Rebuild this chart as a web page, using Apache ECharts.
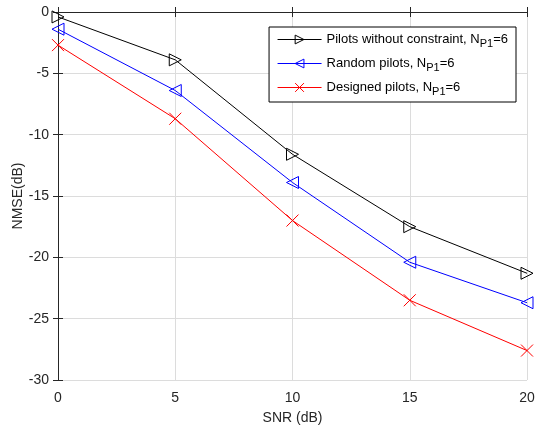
<!DOCTYPE html>
<html>
<head>
<meta charset="utf-8">
<script src="https://cdn.jsdelivr.net/npm/echarts@6/dist/echarts.min.js"></script>
<style>
  html, body { margin: 0; padding: 0; background: #fff; }
  #chart { width: 539px; height: 429px; }
</style>
</head>
<body>
<div id="chart"></div>
<script>
// SNR points and NMSE values (dB)
var snr = [0, 5, 10, 15, 20];
var freePilots = [-0.4, -3.9, -11.6, -17.5, -21.3];
var randomPilots = [-1.4, -6.4, -13.9, -20.4, -23.7];
var designedPilots = [-2.7, -8.7, -17.0, -23.5, -27.6];
var seriesNames = ['Pilots without constraint', 'Random pilots', 'Designed pilots'];

function pairs(ys) {
  var out = [];
  for (var i = 0; i < snr.length; i++) out.push([snr[i], ys[i]]);
  return out;
}

var font = '"Liberation Sans", Arial, sans-serif';
var triRight = 'path://M0,0 L10,5 L0,10 Z';
var triLeft = 'path://M10,0 L0,5 L10,10 Z';
var cross = 'path://M0,0 L10,10 M10,0 L0,10';

function mkSeries(name, ys, color, symbol) {
  return {
    name: name,
    type: 'line',
    data: pairs(ys),
    symbol: symbol,
    symbolSize: 12,
    lineStyle: { color: color, width: 1 },
    itemStyle: { color: 'rgba(0,0,0,0)', borderColor: color, borderWidth: 1 },
    emphasis: { disabled: true },
    animation: false
  };
}

var myChart = echarts.init(document.getElementById('chart'));
myChart.setOption({
  backgroundColor: '#fff',
  grid: { left: 58, right: 12, top: 12, bottom: 49, outerBoundsMode: 'none', containLabel: false },
  legend: {
    right: 23,
    top: 27,
    orient: 'vertical',
    backgroundColor: '#fff',
    borderColor: '#000',
    borderWidth: 1,
    padding: [6, 8, 5, 8],
    itemGap: 8,
    itemWidth: 44,
    itemHeight: 11,
    itemStyle: { color: 'rgba(0,0,0,0)', borderWidth: 1 },
    lineStyle: { width: 1 },
    textStyle: {
      fontFamily: font,
      fontSize: 13,
      color: '#000',
      rich: {
        t: { fontFamily: font, fontSize: 13, color: '#000', height: 18 },
        s: { fontFamily: font, fontSize: 11, color: '#000', padding: [8, 0, 0, 0] }
      }
    },
    formatter: function (name) {
      return '{t|' + name + ', N}{s|P1}{t|=6}';
    },
    data: seriesNames
  },
  xAxis: [{
    type: 'value',
    min: 0, max: 20, interval: 5,
    name: 'SNR (dB)',
    nameLocation: 'middle',
    nameGap: 31,
    nameMoveOverlap: false,
    nameTextStyle: { fontFamily: font, fontSize: 14, color: '#262626' },
    axisLine: { lineStyle: { color: '#262626', width: 1 } },
    axisTick: { inside: true, length: 5, lineStyle: { color: '#262626' } },
    axisLabel: { fontFamily: font, fontSize: 14, color: '#262626', margin: 11 },
    splitLine: { show: true, lineStyle: { color: '#dcdcdc', width: 1 } }
  }, {
    type: 'value', position: 'top',
    min: 0, max: 20, interval: 5,
    axisLine: { show: true, lineStyle: { color: '#262626', width: 1 } },
    axisTick: { inside: true, length: 5, lineStyle: { color: '#262626' } },
    axisLabel: { show: false },
    splitLine: { show: false }
  }],
  yAxis: [{
    type: 'value',
    min: -30, max: 0, interval: 5,
    name: 'NMSE(dB)',
    nameLocation: 'middle',
    nameGap: 33,
    nameMoveOverlap: false,
    nameTextStyle: { fontFamily: font, fontSize: 14, color: '#262626' },
    axisLine: { show: true, lineStyle: { color: '#262626', width: 1 } },
    axisTick: { show: true, inside: true, length: 5, lineStyle: { color: '#262626' } },
    axisLabel: { fontFamily: font, fontSize: 14, color: '#262626', margin: 9 },
    splitLine: { show: true, lineStyle: { color: '#dcdcdc', width: 1 } }
  }, {
    type: 'value', position: 'right',
    min: -30, max: 0, interval: 5,
    axisLine: { show: true, lineStyle: { color: '#262626', width: 1 } },
    axisTick: { show: true, inside: true, length: 5, lineStyle: { color: '#262626' } },
    axisLabel: { show: false },
    splitLine: { show: false }
  }],
  series: [
    mkSeries(seriesNames[0], freePilots, '#000000', triRight),
    mkSeries(seriesNames[1], randomPilots, '#0000ff', triLeft),
    mkSeries(seriesNames[2], designedPilots, '#ff0000', cross)
  ]
});
window.addEventListener('resize', myChart.resize);
</script>
</body>
</html>
